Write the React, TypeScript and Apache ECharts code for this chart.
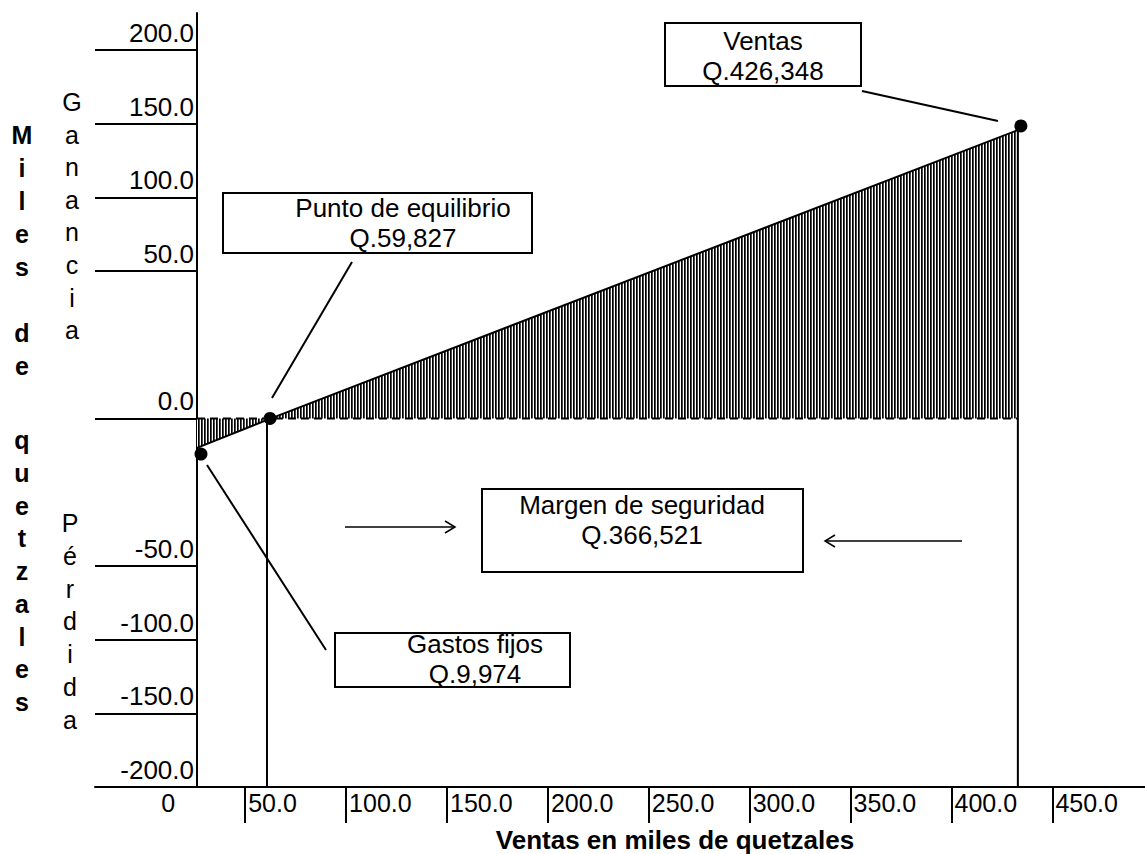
import { useEffect, useRef } from "react";
import * as echarts from "echarts";

// ---- data (miles de quetzales, as drawn) ----
const yTickLabels = [200, 150, 100, 50, 0, -50, -100, -150, -200];
const xTickLabels = [0, 50, 100, 150, 200, 250, 300, 350, 400, 450];
const profitSales = [26.1, 62.8, 432.9];
const profitValues = [-9.97, 0, 145.6];
const pointSales = [28.1, 62.3, 434.4];
const pointValues = [-12.1, 0, 148.4];
const dropSales = [60.8, 432.9];
const dropTops = [0, 145.6];
const baselineSales = [26.1, 432.9];
const axisFloor = -200;
const boxTexts = [
  "Ventas\nQ.426,348",
  "Punto de equilibrio\nQ.59,827",
  "Margen de seguridad\nQ.366,521",
  "Gastos fijos\nQ.9,974",
];

// the printed value axis is not linear: the band between -50 and 50 is drawn twice as tall
const toP = (v: number) => (v >= 50 ? v + 50 : v <= -50 ? v - 50 : 2 * v);
const fromP = (p: number) => (p >= 100 ? p - 50 : p <= -100 ? p + 50 : p / 2);

const FONT = "'Liberation Sans', Arial, Helvetica, sans-serif";

function makeHatch() {
  const c = document.createElement("canvas");
  c.width = 3;
  c.height = 6;
  const ctx = c.getContext("2d")!;
  ctx.fillStyle = "#ffffff";
  ctx.fillRect(0, 0, 3, 6);
  ctx.fillStyle = "#000000";
  ctx.fillRect(0, 0, 1, 6);
  ctx.fillStyle = "#4a4a4a";
  ctx.fillRect(1, 0, 1, 6);
  return c;
}

export default function App() {
  const ref = useRef<HTMLDivElement>(null);
  useEffect(() => {
    if (!ref.current) return;
    const chart = echarts.init(ref.current, null, { renderer: "svg" });
    const tickP = yTickLabels.map(toP);
    const line = (x1: number, y1: number, x2: number, y2: number, w = 2) => ({
      type: "line",
      shape: { x1, y1, x2, y2 },
      style: { stroke: "#000", lineWidth: w },
      z: 100,
    });
    const box = (x: number, y: number, w: number, h: number) => ({
      type: "rect",
      shape: { x, y, width: w, height: h },
      style: { fill: "#fff", stroke: "#000", lineWidth: 2 },
      z: 100,
    });
    const txt = (x: number, y: number, text: string, opts: any = {}) => ({
      type: "text",
      x,
      y,
      z: 101,
      style: {
        text,
        fill: "#000",
        fontFamily: FONT,
        fontSize: 26,
        align: "center",
        textAlign: "center",
        verticalAlign: "middle",
        textVerticalAlign: "middle",
        lineHeight: 30,
        ...opts,
      },
    });
    const column = (x: number, yCenterFirst: number, s: string, lh: number, bold: boolean) =>
      txt(x, yCenterFirst - lh / 2, s.split("").join("\n"), {
        verticalAlign: "top",
        textVerticalAlign: "top",
        lineHeight: lh,
        fontSize: 25,
        fontWeight: bold ? "bold" : "normal",
      });

    chart.setOption({
      animation: false,
      grid: { left: 95, right: 0, top: 13, bottom: 67, containLabel: false },
      xAxis: {
        type: "value",
        min: -24.43,
        max: 495.9,
        axisLine: { onZero: false, lineStyle: { color: "#000", width: 2 } },
        axisTick: {
          show: true,
          customValues: xTickLabels.filter((v) => v !== 0),
          length: 36,
          lineStyle: { color: "#000", width: 2 },
        },
        axisLabel: {
          customValues: xTickLabels,
          formatter: (v: number) => (v === 0 ? "{z|0}" : v.toFixed(1)),
          align: "left",
          margin: 3,
          padding: [0, 0, 0, 3],
          color: "#000",
          fontSize: 25,
          fontFamily: FONT,
          rich: { z: { padding: [0, 0, 0, 14], fontSize: 25, fontFamily: FONT, color: "#000" } },
        },
        splitLine: { show: false },
      },
      yAxis: {
        type: "value",
        min: -250,
        max: 275,
        offset: -102,
        axisLine: { show: true, onZero: false, lineStyle: { color: "#000", width: 2 } },
        axisTick: {
          show: true,
          customValues: tickP.filter((p) => p !== toP(axisFloor)),
          length: 102,
          lineStyle: { color: "#000", width: 2 },
        },
        axisLabel: {
          customValues: tickP,
          formatter: (p: number) => fromP(p).toFixed(1),
          margin: 3,
          verticalAlign: "bottom",
          padding: [0, 0, 4, 0],
          color: "#000",
          fontSize: 26,
          fontFamily: FONT,
        },
        splitLine: { show: false },
      },
      series: [
        {
          name: "Utilidad",
          type: "line",
          data: profitSales.map((s, i) => [s, toP(profitValues[i])]),
          symbol: "none",
          lineStyle: { color: "#000", width: 2 },
          areaStyle: { color: { image: makeHatch(), repeat: "repeat" }, opacity: 1 },
          z: 3,
        },
        {
          name: "Base",
          type: "line",
          data: baselineSales.map((s) => [s, 0]),
          symbol: "none",
          lineStyle: { color: "#000", width: 2, type: [8, 5] },
          z: 4,
        },
        ...dropSales.map((s, i) => ({
          name: "Vertical " + i,
          type: "line",
          data: [
            [s, toP(dropTops[i])],
            [s, toP(axisFloor)],
          ],
          symbol: "none",
          lineStyle: { color: "#000", width: 2 },
          z: 4,
        })),
        {
          name: "Puntos",
          type: "scatter",
          data: pointSales.map((s, i) => [s, toP(pointValues[i])]),
          symbol: "circle",
          symbolSize: 13,
          itemStyle: { color: "#000", opacity: 1 },
          z: 5,
        },
      ],
      graphic: [
        // boxes
        box(665, 23, 196, 63),
        txt(763, 56, boxTexts[0]),
        box(223, 193, 309, 60),
        txt(403, 223, boxTexts[1]),
        box(482, 489, 321, 83),
        txt(642, 520, boxTexts[2]),
        box(335, 633, 235, 54),
        txt(475, 659, boxTexts[3]),
        // leader lines
        line(352, 262, 272, 398),
        line(862, 91, 998, 121),
        line(207, 465, 326, 650),
        // arrows
        line(345, 527, 455, 527, 1.5),
        { type: "polyline", shape: { points: [[445, 521], [455, 527], [445, 533]] }, style: { stroke: "#000", lineWidth: 1.5, fill: null }, z: 100 },
        line(825, 541, 962, 541, 1.5),
        { type: "polyline", shape: { points: [[835, 535], [825, 541], [835, 547]] }, style: { stroke: "#000", lineWidth: 1.5, fill: null }, z: 100 },
        // axis titles
        column(22, 135, "Miles", 33, true),
        column(22, 333, "de", 33, true),
        column(22, 440, "quetzales", 32.75, true),
        column(72, 102, "Ganancia", 32.6, false),
        column(70, 523, "Pérdida", 32.8, false),
        txt(675, 840, "Ventas en miles de quetzales", { fontWeight: "bold", fontSize: 26 }),
      ],
    });
    return () => chart.dispose();
  }, []);
  return (
    <div
      ref={ref}
      style={{ position: "fixed", left: 0, top: 0, width: 1145, height: 854, background: "#fff" }}
    />
  );
}
